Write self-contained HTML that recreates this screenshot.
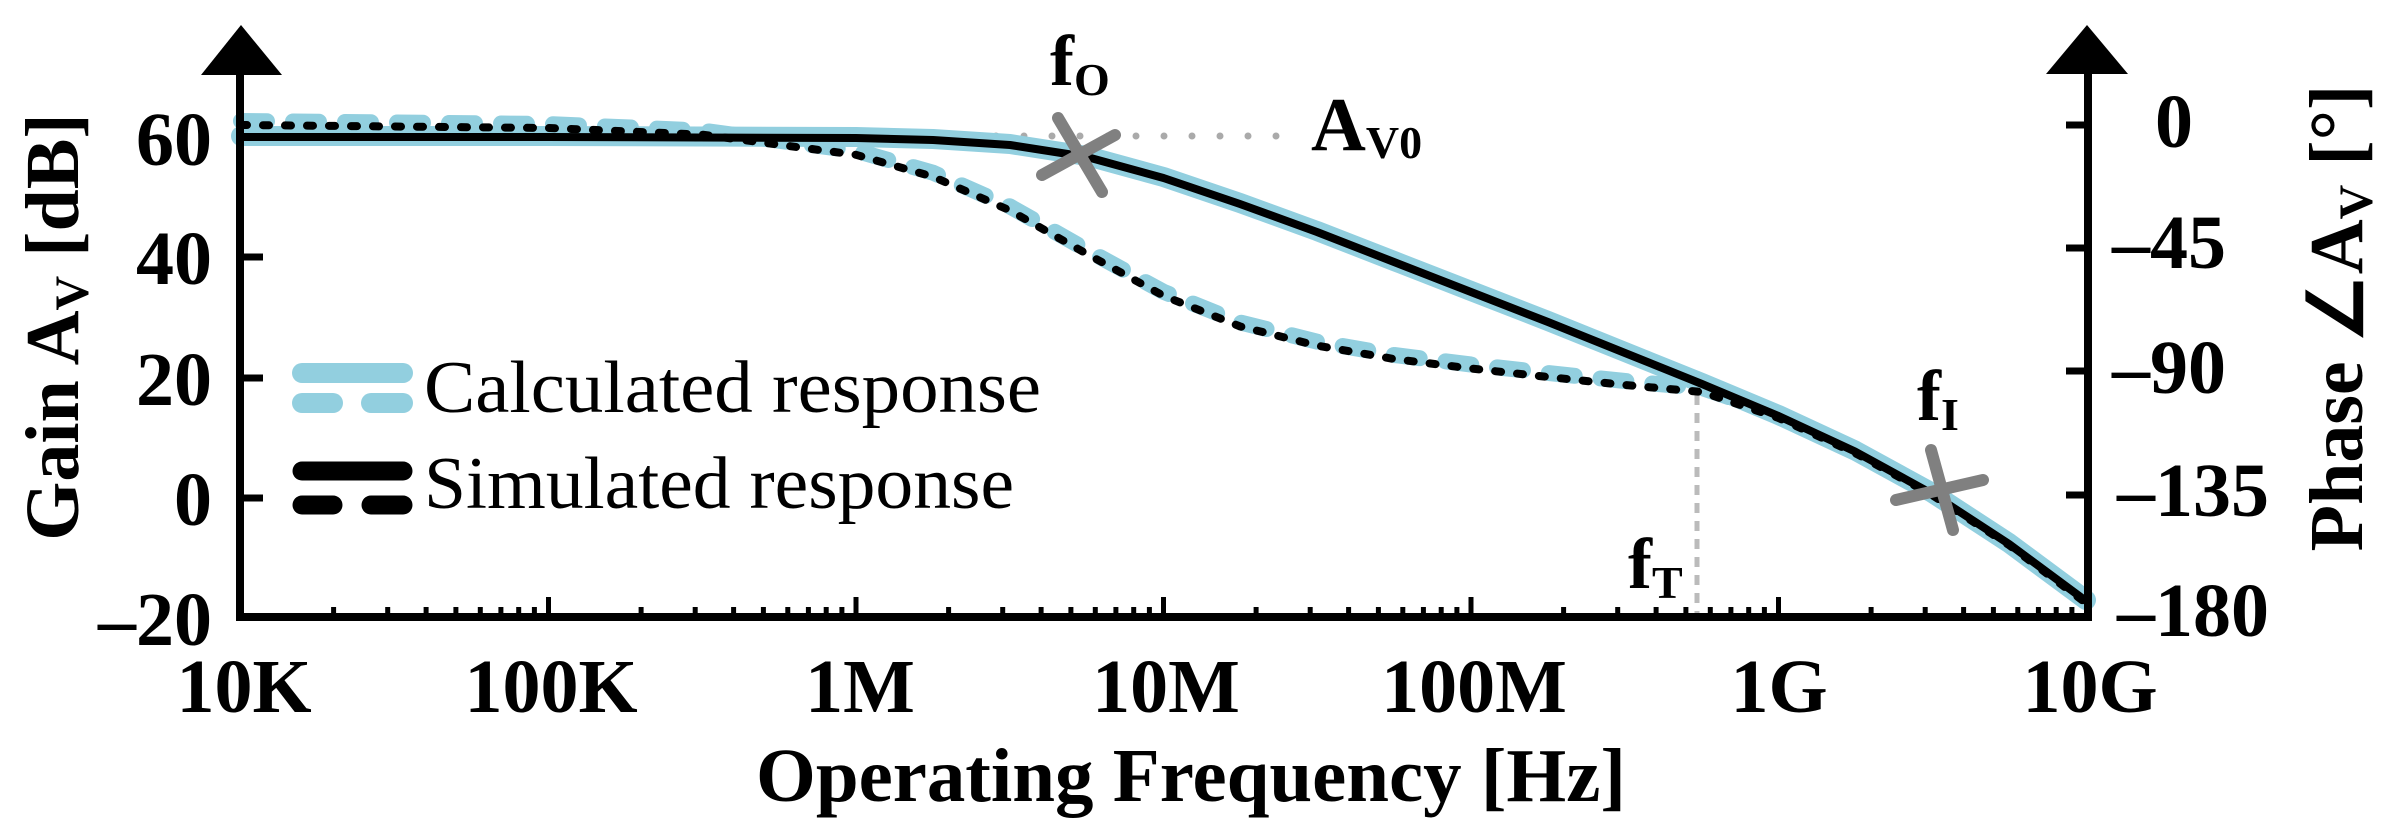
<!DOCTYPE html>
<html><head><meta charset="utf-8"><style>
html,body{margin:0;padding:0;background:#fff;}
svg{display:block;}
text{font-family:"Liberation Serif",serif;}
</style></head><body>
<svg width="2395" height="838" viewBox="0 0 2395 838" xmlns="http://www.w3.org/2000/svg">
<defs>
<g id="dec" stroke="#000" stroke-width="5">
<line x1="0" y1="617" x2="0" y2="597"/>
<line x1="92.6" y1="617" x2="92.6" y2="607"/>
<line x1="146.7" y1="617" x2="146.7" y2="607"/>
<line x1="185.1" y1="617" x2="185.1" y2="607"/>
<line x1="214.9" y1="617" x2="214.9" y2="607"/>
<line x1="239.3" y1="617" x2="239.3" y2="607"/>
<line x1="259.9" y1="617" x2="259.9" y2="607"/>
<line x1="277.7" y1="617" x2="277.7" y2="607"/>
<line x1="293.4" y1="617" x2="293.4" y2="607"/>
</g>
</defs>

<!-- guide lines -->
<line x1="800" y1="136" x2="1290" y2="136" stroke="#aaa" stroke-width="7" stroke-linecap="round" stroke-dasharray="0 28"/>
<line x1="1697" y1="395" x2="1697" y2="615" stroke="#bbb" stroke-width="5" stroke-dasharray="10 8"/>

<!-- calculated (blue) -->
<polyline fill="none" stroke="#92cfdf" stroke-width="20" stroke-linecap="round" stroke-linejoin="round"
 points="241,136 548,136 856,137 933,139 1010,144 1087,156 1163.5,177 1240,203 1317,231 1394,261 1471,291 1548,321 1625,352 1702,383 1778.5,415 1855,450.5 1932,492.7 2009,543 2086,600"/>
<polyline fill="none" stroke="#92cfdf" stroke-width="16" stroke-linecap="round" stroke-linejoin="round" stroke-dasharray="26 26" transform="translate(0,-4)"
 points="241,125 548,128 702,134.6 856,154.8 933,176.7 1010,210.5 1087,254 1163.5,295.8 1240,326.4 1317,345.6 1394,359 1471,368.5 1548,377 1625,385 1702,392 1778.5,418 1855,453 1932,495 2009,545 2086,603"/>

<!-- simulated (black) -->
<polyline fill="none" stroke="#000" stroke-width="8" stroke-linecap="round" stroke-linejoin="round" stroke-dasharray="6 16"
 points="241,125 548,128 702,134.6 856,154.8 933,176.7 1010,210.5 1087,254 1163.5,295.8 1240,326.4 1317,345.6 1394,359 1471,368.5 1548,377 1625,385 1702,392 1778.5,418 1855,453 1932,495 2009,545 2086,603"/>
<polyline fill="none" stroke="#000" stroke-width="8" stroke-linejoin="round"
 points="241,137 548,137 856,138 933,140 1010,145 1087,157 1163.5,178 1240,204 1317,232 1394,262 1471,292 1548,322 1625,353 1702,384 1778.5,416 1855,451.5 1932,493.7 2009,544 2086,601"/>

<!-- markers -->
<g stroke="#808080" stroke-width="12" stroke-linecap="round">
<line x1="1058" y1="118" x2="1102" y2="192"/>
<line x1="1115" y1="135" x2="1042" y2="175"/>
<line x1="1931" y1="450" x2="1953" y2="530"/>
<line x1="1896" y1="500" x2="1983" y2="480"/>
</g>

<!-- axes -->
<g stroke="#000" stroke-width="8">
<line x1="240" y1="70" x2="240" y2="621"/>
<line x1="2088" y1="70" x2="2088" y2="621"/>
<line x1="236" y1="617" x2="2092" y2="617"/>
</g>
<polygon points="241,25 201,75 282,75" fill="#000"/>
<polygon points="2087,25 2046,74 2128,74" fill="#000"/>
<g stroke="#000" stroke-width="7">
<line x1="240" y1="257" x2="263" y2="257"/>
<line x1="240" y1="378" x2="263" y2="378"/>
<line x1="240" y1="498" x2="263" y2="498"/>
<line x1="2066" y1="125" x2="2088" y2="125"/>
<line x1="2066" y1="248" x2="2088" y2="248"/>
<line x1="2066" y1="371" x2="2088" y2="371"/>
<line x1="2066" y1="495" x2="2088" y2="495"/>
</g>
<use href="#dec" x="241"/><use href="#dec" x="548.5"/><use href="#dec" x="856"/>
<use href="#dec" x="1163.5"/><use href="#dec" x="1471"/><use href="#dec" x="1778.5"/>

<!-- left tick labels -->
<g font-weight="bold" font-size="76" text-anchor="end">
<text x="212" y="165">60</text>
<text x="212" y="284">40</text>
<text x="212" y="405">20</text>
<text x="212" y="525">0</text>
<text x="212" y="645">–20</text>
</g>
<!-- right tick labels -->
<g font-weight="bold" font-size="76">
<text x="2155" y="147">0</text>
<text x="2112" y="268">–45</text>
<text x="2112" y="393">–90</text>
<text x="2117" y="516">–135</text>
<text x="2117" y="636">–180</text>
</g>
<!-- x tick labels -->
<g font-weight="bold" font-size="76" text-anchor="middle">
<text x="244" y="712">10K</text>
<text x="551" y="712">100K</text>
<text x="860" y="712">1M</text>
<text x="1166" y="712">10M</text>
<text x="1474" y="712">100M</text>
<text x="1779" y="712">1G</text>
<text x="2090" y="712">10G</text>
</g>
<text x="1191" y="801" font-weight="bold" font-size="76" text-anchor="middle" textLength="870" lengthAdjust="spacingAndGlyphs">Operating Frequency [Hz]</text>

<text transform="translate(78,327) rotate(-90)" font-weight="bold" font-size="76" text-anchor="middle">Gain A<tspan font-size="48" dy="10">V</tspan><tspan dy="-10"> [dB]</tspan></text>
<text transform="translate(2362,318) rotate(-90)" font-weight="bold" font-size="76" text-anchor="middle">Phase ∠A<tspan font-size="48" dy="10">V</tspan><tspan dy="-10"> [°]</tspan></text>

<!-- annotations -->
<g font-weight="bold">
<text x="1050" y="85" font-size="72">f<tspan font-size="46" dy="10">O</tspan></text>
<text x="1311" y="150" font-size="76">A<tspan font-size="46" dy="8">V0</tspan></text>
<text x="1628" y="588" font-size="72">f<tspan font-size="46" dy="10">T</tspan></text>
<text x="1917" y="420" font-size="72">f<tspan font-size="46" dy="10">I</tspan></text>
</g>

<!-- legend -->
<g stroke-linecap="round">
<line x1="302" y1="373" x2="403" y2="373" stroke="#92cfdf" stroke-width="20"/>
<line x1="302" y1="403" x2="333" y2="403" stroke="#92cfdf" stroke-width="20"/>
<line x1="371" y1="403" x2="403" y2="403" stroke="#92cfdf" stroke-width="20"/>
<line x1="302" y1="471" x2="403" y2="471" stroke="#000" stroke-width="19"/>
<line x1="302" y1="505" x2="333" y2="505" stroke="#000" stroke-width="19"/>
<line x1="371" y1="505" x2="403" y2="505" stroke="#000" stroke-width="19"/>
</g>
<text x="424" y="412" font-size="74" textLength="617" lengthAdjust="spacingAndGlyphs">Calculated response</text>
<text x="424" y="508" font-size="74" textLength="590" lengthAdjust="spacingAndGlyphs">Simulated response</text>
</svg>
</body></html>
